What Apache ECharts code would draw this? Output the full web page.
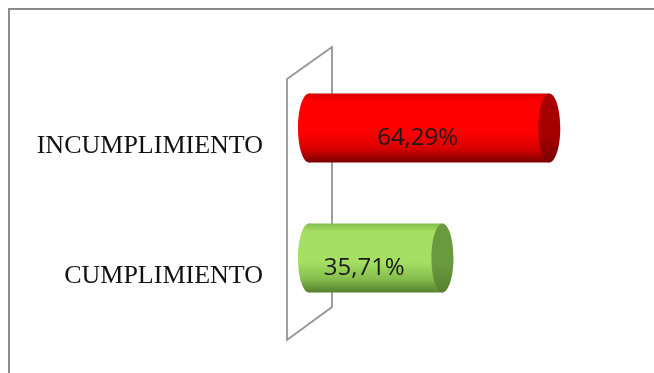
<!DOCTYPE html>
<html>
<head>
<meta charset="utf-8">
<script src="https://cdn.jsdelivr.net/npm/echarts@6/dist/echarts.min.js"></script>
<style>
  html, body { margin: 0; padding: 0; background: #ffffff; }
  #chart { width: 654px; height: 373px; }
</style>
</head>
<body>
<div id="chart"></div>
<script>
// Categories (bottom to top on the category axis)
const categories = ['CUMPLIMIENTO', 'INCUMPLIMIENTO'];
// Percentages per category
const values = [35.71, 64.29];
// Cylinder colour sets: [edge top, body light, edge bottom, end cap]
const palettes = [
  ['#86BE4E', '#A6E062', '#557F2E', '#6A9A3E'],
  ['#D80000', '#FF0000', '#7A0000', '#A60000']
];

const chart = echarts.init(document.getElementById('chart'), null, { renderer: 'canvas' });

function bodyGradient(p) {
  return new echarts.graphic.LinearGradient(0, 0, 0, 1, [
    { offset: 0, color: p[0] },
    { offset: 0.12, color: p[1] },
    { offset: 0.55, color: p[1] },
    { offset: 0.8, color: p[0] },
    { offset: 1, color: p[2] }
  ]);
}

function capGradient(p) {
  return new echarts.graphic.LinearGradient(0, 0, 0, 1, [
    { offset: 0, color: p[3] },
    { offset: 0.6, color: p[3] },
    { offset: 1, color: p[2] }
  ]);
}

function renderCylinder(params, api) {
  const cat = api.value(0);
  const val = api.value(1);
  const start = api.coord([0, cat]);
  const end = api.coord([val, cat]);
  const h = api.size([0, 1])[1] * 0.53;
  const ry = h / 2;
  const rx = 11;
  const cy = start[1];
  const p = palettes[params.dataIndex];
  const label = val.toFixed(2).replace('.', ',') + '%';
  return {
    type: 'group',
    children: [
      { type: 'ellipse', shape: { cx: start[0], cy: cy, rx: rx, ry: ry },
        style: { fill: bodyGradient(p) } },
      { type: 'rect', shape: { x: start[0], y: cy - ry, width: end[0] - start[0], height: h },
        style: { fill: bodyGradient(p) } },
      { type: 'ellipse', shape: { cx: end[0], cy: cy, rx: rx, ry: ry },
        style: { fill: capGradient(p) } },
      { type: 'text',
        style: {
          text: label,
          x: (start[0] - rx + end[0]) / 2 - 6,
          y: cy + 10,
          align: 'center',
          verticalAlign: 'middle',
          fontFamily: 'Open Sans, Liberation Sans, sans-serif',
          fontSize: 24,
          fill: '#1a1a1a'
        } },
      // category name, set slightly below the cylinder axis
      { type: 'text',
        style: {
          text: categories[cat],
          x: start[0] - 46,
          y: cy + 18,
          align: 'right',
          verticalAlign: 'middle',
          fontFamily: 'Liberation Serif, Times New Roman, serif',
          fontSize: 26,
          fill: '#111111'
        } }
    ]
  };
}

chart.setOption({
  animation: false,
  backgroundColor: '#ffffff',
  grid: { left: 309, top: 63, height: 260, right: 46 },
  xAxis: {
    type: 'value', min: 0, max: 80, show: false
  },
  yAxis: {
    type: 'category',
    data: categories,
    axisLine: { show: false },
    axisTick: { show: false },
    axisLabel: { show: false }
  },
  series: [{
    type: 'custom',
    renderItem: renderCylinder,
    encode: { x: 1, y: 0 },
    data: values.map((v, i) => [i, v])
  }]
});

// Chart frame and the slanted back wall behind the cylinders
const z0 = chart.convertToPixel({ gridIndex: 0 }, [0, 0]);
const wx = z0[0];
chart.setOption({
  graphic: [
    { type: 'rect', silent: true, z: -1,
      shape: { x: 9, y: 9, width: 700, height: 400 },
      style: { fill: 'none', stroke: '#8c8c8c', lineWidth: 2 } },
    { type: 'polygon', silent: true, z: -1,
      shape: { points: [[wx - 22, 79], [wx + 23, 47], [wx + 23, 307], [wx - 22, 340]] },
      style: { fill: 'none', stroke: '#959595', lineWidth: 1.8 } }
  ]
});
</script>
</body>
</html>
